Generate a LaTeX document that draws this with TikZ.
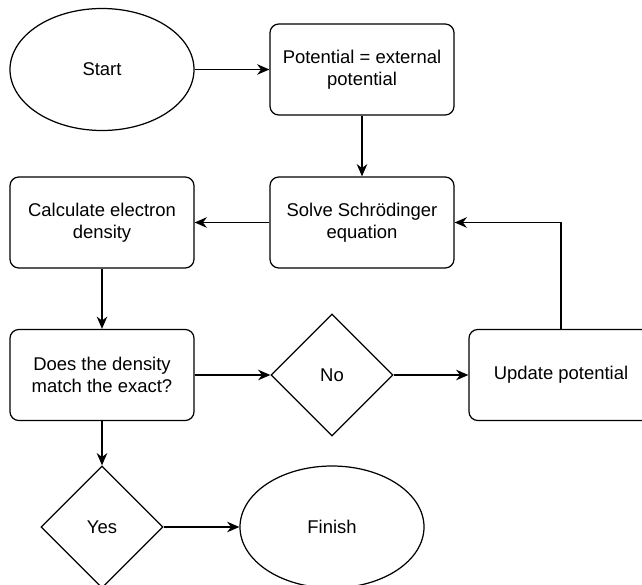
\documentclass[tikz,border=0pt]{standalone}
\usepackage{fontspec}
\setmainfont{Liberation Sans}
\usetikzlibrary{shapes.geometric,arrows.meta}

\begin{document}
\begin{tikzpicture}[line width=0.7pt,
  font=\fontsize{10.5}{12.3}\selectfont,
  block/.style={draw, rounded corners=5pt, minimum width=3.68cm, minimum height=1.82cm, align=center},
  terminal/.style={draw, ellipse, minimum width=3.68cm, minimum height=2.44cm},
  decision/.style={draw, diamond, aspect=1, inner sep=0pt, minimum width=2.44cm, minimum height=2.44cm},
  flow/.style={-{Stealth[length=7pt,width=6pt]}}]
 \useasboundingbox (0,0) rectangle (12.84,11.68);

 \node[terminal] (start) at (2.04,10.29) {Start};
 \node[block] (pot) at (7.24,10.29) {Potential = external\\potential};
 \node[block] (solve) at (7.24,7.23) {Solve Schrödinger\\equation};
 \node[block] (calc) at (2.04,7.23) {Calculate electron\\density};
 \node[block] (match) at (2.04,4.18) {Does the density\\match the exact?};
 \node[decision] (no) at (6.64,4.18) {No};
 \node[block] (update) at (11.22,4.18) {Update potential};
 \node[decision] (yes) at (2.04,1.14) {Yes};
 \node[terminal] (finish) at (6.64,1.14) {Finish};

 \draw[flow] (start) -- (pot);
 \draw[flow] (pot) -- (solve);
 \draw[flow] (solve) -- (calc);
 \draw[flow] (calc) -- (match);
 \draw[flow] (match) -- (no);
 \draw[flow] (no) -- (update);
 \draw[flow] (update.north) |- (solve.east);
 \draw[flow] (match) -- (yes);
 \draw[flow] (yes) -- (finish);
\end{tikzpicture}
\end{document}
